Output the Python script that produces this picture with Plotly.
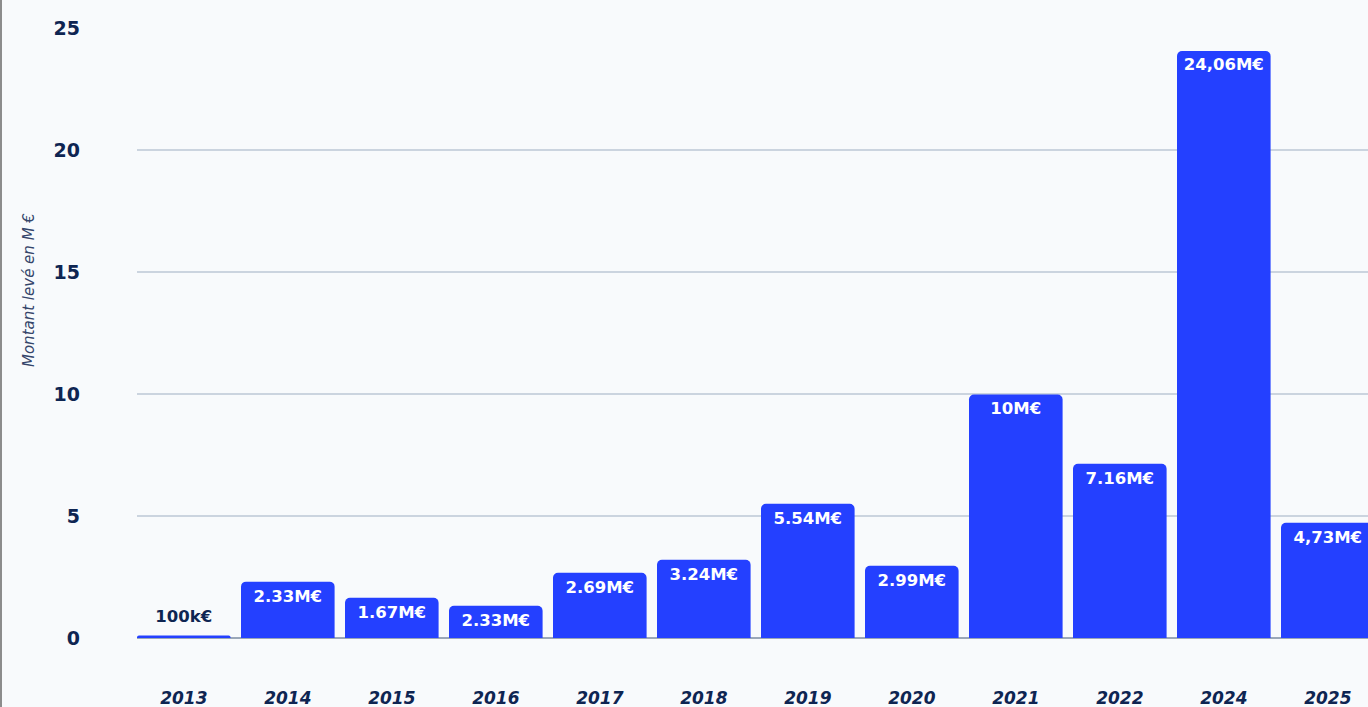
import plotly.graph_objects as go

# montants levés par année (M€)
annees = ["2013", "2014", "2015", "2016", "2017", "2018", "2019", "2020", "2021", "2022", "2024", "2025"]
montants = [0.1, 2.31, 1.65, 1.32, 2.67, 3.21, 5.5, 2.96, 9.98, 7.14, 24.06, 4.72]
etiquettes = ["100k€", "2.33M€", "1.67M€", "2.33M€", "2.69M€", "3.24M€", "5.54M€", "2.99M€",
              "10M€", "7.16M€", "24,06M€", "4,73M€"]

navy = "#0E2552"
bleu = "#2440FF"
fond = "#F8FAFC"
police = "DejaVu Sans, sans-serif"

W, H = 1368, 707
ml, mt, mb = 137, 28, 69
pw = W - ml
ph = H - mt - mb

# la première barre est trop petite : son étiquette est posée au-dessus
textes_barres = [""] + etiquettes[1:]

fig = go.Figure(go.Bar(
    x=annees,
    y=montants,
    text=textes_barres,
    textposition="inside",
    insidetextanchor="end",
    textfont=dict(family=police, size=16.5, color="white", weight="bold"),
    marker=dict(color=bleu, cornerradius=5, line=dict(width=0)),
    width=0.9,
    cliponaxis=True,
    hoverinfo="skip",
))

fig.add_trace(go.Scatter(
    x=annees[:1], y=montants[:1], text=etiquettes[:1],
    mode="markers+text", textposition="top center",
    marker=dict(size=14, opacity=0),
    textfont=dict(family=police, size=16.5, color=navy, weight="bold"),
    hoverinfo="skip", cliponaxis=False,
))

fig.update_layout(
    width=W, height=H,
    margin=dict(l=ml, r=0, t=mt, b=mb),
    paper_bgcolor=fond,
    plot_bgcolor=fond,
    showlegend=False,
    bargap=0.1,
    font=dict(family=police, color=navy),
)

fig.update_xaxes(
    type="category",
    range=[-0.45, -0.45 + pw / 104.0],
    showgrid=False,
    showline=False,
    ticks="",
    ticklabelstandoff=48,
    tickfont=dict(size=17, color=navy, weight="bold", style="italic"),
)

fig.update_yaxes(
    range=[0, 25],
    tickvals=[0, 5, 10, 15, 20, 25],
    showgrid=True,
    gridcolor="#CBD4DF",
    gridwidth=1.5,
    zeroline=True,
    zerolinecolor="#9AA7B8",
    zerolinewidth=2,
    ticks="",
    ticklabelstandoff=56,
    tickfont=dict(size=19, color=navy, weight="bold"),
)

# titre de l'axe y
fig.add_annotation(
    text="Montant levé en M €",
    xref="paper", yref="paper",
    x=(18 - ml) / pw, y=(H - mb - 290) / ph,
    textangle=-90, showarrow=False,
    font=dict(size=15, color="#34456A", style="italic", weight="normal"),
)

# bordure gauche
fig.add_shape(
    type="line", xref="paper", yref="paper",
    x0=(1 - ml) / pw, x1=(1 - ml) / pw,
    y0=-mb / ph, y1=(ph + mt) / ph,
    line=dict(color="#8C8C8C", width=2),
)

fig.write_html("out.html", config={"displayModeBar": False},
               post_script="document.body.style.margin='0';")
